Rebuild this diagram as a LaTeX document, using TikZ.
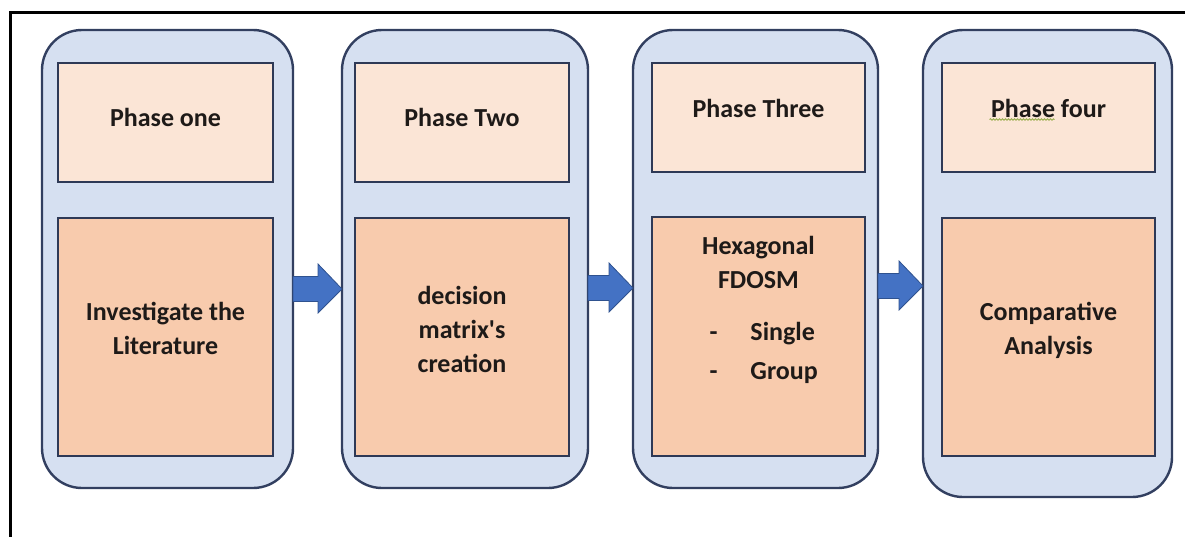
\documentclass[tikz,border=0pt]{standalone}
\usepackage{fontspec}
\setmainfont{Carlito}
\usetikzlibrary{decorations.pathmorphing}

\definecolor{panelfill}{HTML}{D6E0F1}
\definecolor{panelline}{HTML}{323F60}
\definecolor{headfill}{HTML}{FBE5D6}
\definecolor{bodyfill}{HTML}{F8CBAD}
\definecolor{boxline}{HTML}{2E3956}
\definecolor{arrowfill}{HTML}{4472C4}
\definecolor{arrowline}{HTML}{2F528F}
\definecolor{inktext}{HTML}{1E1A18}
\definecolor{spellmark}{HTML}{9AAE4E}

\tikzset{
  panel/.style={draw=panelline, fill=panelfill, line width=2.4pt,
    rounded corners=40pt, inner sep=0pt, outer sep=0pt},
  headbox/.style={draw=boxline, fill=headfill, line width=2.8pt,
    inner sep=0pt, outer sep=0pt},
  bodybox/.style={draw=boxline, fill=bodyfill, line width=2.8pt,
    inner sep=0pt, outer sep=0pt},
  label/.style={text=inktext, align=center, inner sep=0pt,
    font=\fontsize{26}{34}\selectfont\bfseries},
  flow/.style={draw=arrowline, fill=arrowfill, line width=0.8pt,
    line join=miter},
  frame/.style={draw=black, line width=3pt}
}

% block arrow from panel #1 to panel #2, centred on height #3
\newcommand\phasearrow[4]{%
  \coordinate (#4) at ([xshift=-24pt]#2.west);
  \draw[flow] (#1.east |- 0,#3-12.5) -- (#4 |- 0,#3-12.5)
    -- (#4 |- 0,#3-25) -- (#2.west |- 0,#3) -- (#4 |- 0,#3+24)
    -- (#4 |- 0,#3+12.5) -- (#1.east |- 0,#3+12.5) -- cycle;
}

\begin{document}
\begin{tikzpicture}[x=1pt,y=-1pt]
\useasboundingbox (0,0) rectangle (1185,536);

% page frame
\draw[frame] (10,540) -- (10,12) -- (1190,12);

% phase panels
\node[panel, minimum width=251pt, minimum height=458pt] (o1) at (167.5,259) {};
\node[panel, minimum width=246pt, minimum height=458pt] (o2) at (465,259) {};
\node[panel, minimum width=245pt, minimum height=458pt] (o3) at (755.5,259) {};
\node[panel, minimum width=249pt, minimum height=467pt] (o4) at (1047.5,263.5) {};

% headings
\node[headbox, minimum width=215pt, minimum height=119pt] (a1) at (165.5,122.5) {};
\node[headbox, minimum width=214pt, minimum height=119pt] (a2) at (462,122.5) {};
\node[headbox, minimum width=213pt, minimum height=109pt] (a3) at (758.5,117.5) {};
\node[headbox, minimum width=213pt, minimum height=109pt] (a4) at (1048.5,117.5) {};

% contents
\node[bodybox, minimum width=215pt, minimum height=238pt] (b1) at (165.5,337) {};
\node[bodybox, minimum width=214pt, minimum height=238pt] (b2) at (462,337) {};
\node[bodybox, minimum width=213pt, minimum height=239pt] (b3) at (758.5,336.5) {};
\node[bodybox, minimum width=213pt, minimum height=238pt] (b4) at (1048.5,337) {};

% texts
\node[label] (t1) at ([yshift=5pt]a1.center) {Phase one};
\node[label] (t2) at ([yshift=5pt]a2.center) {Phase Two};
\node[label] (t3) at ([yshift=9pt]a3.center) {Phase Three};
\node[label] (t4) at ([yshift=9pt]a4.center) {Phase four};
\draw[spellmark, line width=0.9pt,
  decorate, decoration={snake, amplitude=0.7pt, segment length=3pt}]
  ([xshift=-59pt,yshift=-11pt]t4.center) -- ([xshift=6pt,yshift=-11pt]t4.center);

\node[label] (u1) at ([yshift=9pt]b1.center) {Investigate the\\Literature};
\node[label] (u2) at ([yshift=8pt]b2.center) {decision\\matrix\textquotesingle s\\creation};
\node[label] (u3) at ([yshift=27pt]b3.center)
  {Hexagonal\\FDOSM\\[18pt]
   \makebox[120pt][l]{\hspace{11pt}-\hspace{33pt}Single}\\[5pt]
   \makebox[120pt][l]{\hspace{11pt}-\hspace{33pt}Group}};
\node[label] (u4) at ([yshift=7pt]b4.center) {Comparative\\Analysis};

% flow between phases
\phasearrow{o1}{o2}{289}{h1}
\phasearrow{o2}{o3}{288}{h2}
\phasearrow{o3}{o4}{286}{h3}
\end{tikzpicture}
\end{document}
